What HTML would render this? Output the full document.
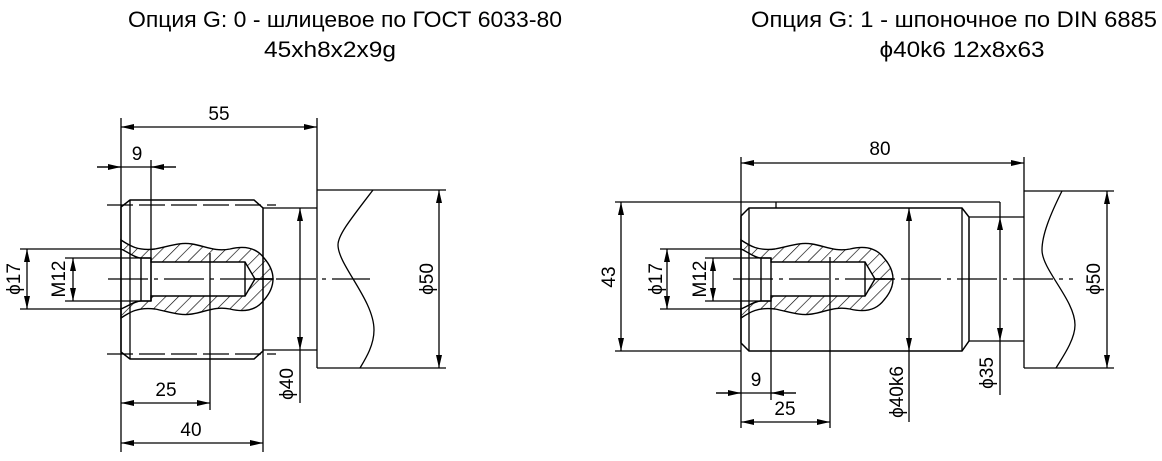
<!DOCTYPE html>
<html><head><meta charset="utf-8"><style>
html,body{margin:0;padding:0;background:#fff;}
svg{display:block;}
text{font-family:"Liberation Sans","DejaVu Sans",sans-serif;fill:#000;}
</style></head><body>
<svg width="1162" height="461" viewBox="0 0 1162 461" xmlns="http://www.w3.org/2000/svg">
<defs>
<marker id="a" markerUnits="userSpaceOnUse" markerWidth="14" markerHeight="8" refX="13" refY="3.5" orient="auto-start-reverse"><path d="M0,0.5 L13,3.5 L0,6.5 Z" fill="#000"/></marker>
<pattern id="h" patternUnits="userSpaceOnUse" width="9" height="9" patternTransform="rotate(45)"><line x1="0" y1="0" x2="0" y2="9" stroke="#000" stroke-width="1.3"/></pattern>
<g id="core" fill="none" stroke="#000" stroke-width="1.4">
<path d="M741,240 C750,246 758,251 775,249 C790,246 800,242 812,244 C825,246 835,252 850,249 C862,246 875,246 884,258 C891,266 893,273 893,279 L875,279 L865,262 L771,262 L771,258 L761,258 C755,258 748,252 741,249 Z" fill="url(#h)"/>
<path d="M741,318 C750,312 758,307 775,309 C790,312 800,316 812,314 C825,312 835,306 850,309 C862,312 875,312 884,300 C891,292 893,285 893,279 L875,279 L865,296 L771,296 L771,301 L761,301 C755,301 748,306 741,309 Z" fill="url(#h)"/>
<line x1="865" y1="262" x2="865" y2="296"/>
<line x1="761" y1="258" x2="761" y2="301"/>
<line x1="771" y1="258" x2="771" y2="301"/>
</g>
</defs>

<text x="345" y="27" font-size="22" text-anchor="middle" textLength="434" lengthAdjust="spacingAndGlyphs">Опция G: 0 - шлицевое по ГОСТ 6033-80</text>
<text x="330" y="57" font-size="22" text-anchor="middle" textLength="132" lengthAdjust="spacingAndGlyphs">45xh8x2x9g</text>
<text x="954" y="27" font-size="22" text-anchor="middle" textLength="406" lengthAdjust="spacingAndGlyphs">Опция G: 1 - шпоночное по DIN 6885</text>
<text x="962" y="57" font-size="22" text-anchor="middle" textLength="165" lengthAdjust="spacingAndGlyphs">ϕ40k6 12x8x63</text>

<!-- LEFT -->
<g fill="none" stroke="#000" stroke-width="1.3">
<use href="#core" transform="translate(-620,0)"/>
<line x1="121" y1="127" x2="317" y2="127" marker-start="url(#a)" marker-end="url(#a)"/>
<line x1="121" y1="118" x2="121" y2="452"/>
<line x1="317" y1="118" x2="317" y2="368"/>
<line x1="97" y1="167" x2="176" y2="167"/>
<line x1="97" y1="167" x2="121" y2="167" marker-end="url(#a)"/>
<line x1="176" y1="167" x2="151" y2="167" marker-end="url(#a)"/>
<line x1="151" y1="160" x2="151" y2="301"/>
<path d="M130,200 L254,200 L263,208 L263,351 L254,359 L130,359 L121,352 L121,207 Z" stroke-width="1.5"/>
<line x1="130" y1="200" x2="130" y2="359"/>
<line x1="107" y1="205" x2="276" y2="205" stroke-dasharray="26,6"/>
<line x1="107" y1="354" x2="276" y2="354" stroke-dasharray="26,6"/>
<line x1="263" y1="208" x2="317" y2="208"/>
<line x1="263" y1="350" x2="317" y2="350"/>
<line x1="317" y1="190" x2="446" y2="190"/>
<line x1="317" y1="368" x2="446" y2="368"/>
<path d="M373,190 C350,220 338,235 338,245 C338,265 374,300 374,330 C374,345 366,358 360,368"/>
<line x1="439" y1="190" x2="439" y2="368" marker-start="url(#a)" marker-end="url(#a)"/>
<line x1="300" y1="208" x2="300" y2="350" marker-start="url(#a)" marker-end="url(#a)"/>
<line x1="300" y1="350" x2="300" y2="403"/>
<line x1="108" y1="279" x2="370" y2="279" stroke-dasharray="40,6,4,6"/>
<line x1="27" y1="249" x2="27" y2="309" marker-start="url(#a)" marker-end="url(#a)"/>
<line x1="20" y1="249" x2="121" y2="249"/>
<line x1="20" y1="309" x2="121" y2="309"/>
<line x1="73" y1="258" x2="73" y2="301" marker-start="url(#a)" marker-end="url(#a)"/>
<line x1="65" y1="258" x2="151" y2="258"/>
<line x1="65" y1="301" x2="151" y2="301"/>
<line x1="121" y1="403" x2="210" y2="403" marker-start="url(#a)" marker-end="url(#a)"/>
<line x1="210" y1="253" x2="210" y2="410"/>
<line x1="121" y1="443" x2="263" y2="443" marker-start="url(#a)" marker-end="url(#a)"/>
<line x1="263" y1="351" x2="263" y2="452"/>
</g>
<g font-size="19" text-anchor="middle">
<text x="219" y="120">55</text>
<text x="137" y="160">9</text>
<text x="166" y="396">25</text>
<text x="191" y="436">40</text>
<text transform="translate(433,279) rotate(-90)">ϕ50</text>
<text transform="translate(293,384) rotate(-90)">ϕ40</text>
<text transform="translate(20,279) rotate(-90)">ϕ17</text>
<text transform="translate(65,279) rotate(-90)">M12</text>
</g>

<!-- RIGHT -->
<g fill="none" stroke="#000" stroke-width="1.3">
<use href="#core"/>
<line x1="741" y1="163" x2="1024" y2="163" marker-start="url(#a)" marker-end="url(#a)"/>
<line x1="741" y1="157" x2="741" y2="428"/>
<line x1="1024" y1="157" x2="1024" y2="368"/>
<line x1="621" y1="202" x2="621" y2="351" marker-start="url(#a)" marker-end="url(#a)"/>
<line x1="615" y1="202" x2="1000" y2="202"/>
<line x1="615" y1="351" x2="741" y2="351"/>
<line x1="776" y1="202" x2="776" y2="208"/>
<path d="M749,208 L962,208 L969,217 L969,341 L962,351 L749,351 L741,343 L741,216 Z" stroke-width="1.5"/>
<line x1="749" y1="208" x2="749" y2="351"/>
<line x1="962" y1="208" x2="962" y2="351"/>
<line x1="969" y1="217" x2="1024" y2="217"/>
<line x1="969" y1="341" x2="1024" y2="341"/>
<line x1="1024" y1="191" x2="1114" y2="191"/>
<line x1="1024" y1="368" x2="1114" y2="368"/>
<path d="M1062,191 C1050,215 1042,235 1042,250 C1042,270 1075,300 1075,325 C1075,340 1062,358 1056,368"/>
<line x1="1107" y1="191" x2="1107" y2="368" marker-start="url(#a)" marker-end="url(#a)"/>
<line x1="1000" y1="202" x2="1000" y2="217"/>
<line x1="1000" y1="217" x2="1000" y2="341" marker-start="url(#a)" marker-end="url(#a)"/>
<line x1="1000" y1="341" x2="1000" y2="395"/>
<line x1="909" y1="208" x2="909" y2="351" marker-start="url(#a)" marker-end="url(#a)"/>
<line x1="909" y1="351" x2="909" y2="422"/>
<line x1="733" y1="279" x2="1073" y2="279" stroke-dasharray="40,6,4,6"/>
<line x1="667" y1="249" x2="667" y2="309" marker-start="url(#a)" marker-end="url(#a)"/>
<line x1="660" y1="249" x2="741" y2="249"/>
<line x1="660" y1="309" x2="741" y2="309"/>
<line x1="713" y1="258" x2="713" y2="301" marker-start="url(#a)" marker-end="url(#a)"/>
<line x1="705" y1="258" x2="771" y2="258"/>
<line x1="705" y1="301" x2="771" y2="301"/>
<line x1="716" y1="393" x2="796" y2="393"/>
<line x1="716" y1="393" x2="741" y2="393" marker-end="url(#a)"/>
<line x1="796" y1="393" x2="771" y2="393" marker-end="url(#a)"/>
<line x1="771" y1="301" x2="771" y2="400"/>
<line x1="741" y1="422" x2="830" y2="422" marker-start="url(#a)" marker-end="url(#a)"/>
<line x1="830" y1="257" x2="830" y2="428"/>
</g>
<g font-size="19" text-anchor="middle">
<text x="880" y="155">80</text>
<text x="756" y="386">9</text>
<text x="785" y="415">25</text>
<text transform="translate(615,277) rotate(-90)">43</text>
<text transform="translate(1100,279) rotate(-90)">ϕ50</text>
<text transform="translate(993,373) rotate(-90)">ϕ35</text>
<text transform="translate(903,392) rotate(-90)">ϕ40k6</text>
<text transform="translate(662,279) rotate(-90)">ϕ17</text>
<text transform="translate(706,279) rotate(-90)">M12</text>
</g>
</svg>
</body></html>
